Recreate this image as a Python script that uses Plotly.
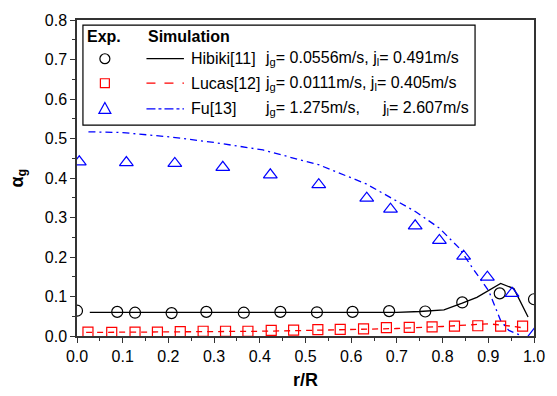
import plotly.graph_objects as go

# ---------------- data ----------------
hib_exp_x = [0.0, 0.088, 0.127, 0.207, 0.283, 0.365, 0.445, 0.525, 0.603, 0.683, 0.762, 0.843, 0.925, 1.0]
hib_exp_y = [0.064, 0.061, 0.059, 0.058, 0.061, 0.059, 0.061, 0.060, 0.061, 0.063, 0.062, 0.085, 0.108, 0.093]
hib_sim_x = [0.028, 0.2, 0.4, 0.6, 0.7, 0.75, 0.803, 0.843, 0.875, 0.927, 0.956, 0.987]
hib_sim_y = [0.060, 0.060, 0.060, 0.060, 0.060, 0.062, 0.066, 0.083, 0.098, 0.133, 0.120, 0.048]

luc_exp_x = [0.024, 0.076, 0.127, 0.176, 0.226, 0.276, 0.325, 0.374, 0.425, 0.474,
             0.527, 0.576, 0.627, 0.677, 0.727, 0.777, 0.826, 0.877, 0.927, 0.975]
luc_exp_y = [0.010, 0.009, 0.010, 0.010, 0.011, 0.012, 0.012, 0.012, 0.014, 0.015,
             0.016, 0.017, 0.018, 0.021, 0.022, 0.023, 0.025, 0.026, 0.025, 0.025]
luc_sim_x = [0.02, 0.2, 0.4, 0.5, 0.6, 0.7, 0.8, 0.85, 0.9, 0.95, 0.98]
luc_sim_y = [0.009, 0.010, 0.012, 0.014, 0.016, 0.019, 0.024, 0.027, 0.031, 0.025, 0.020]

fu_exp_x = [0.005, 0.108, 0.214, 0.319, 0.423, 0.529, 0.634, 0.686, 0.740, 0.793, 0.846, 0.898, 0.952, 1.0]
fu_exp_y = [0.441, 0.439, 0.437, 0.427, 0.408, 0.383, 0.349, 0.321, 0.279, 0.242, 0.202, 0.149, 0.108, 0.004]
fu_sim_x = [0.025, 0.1, 0.203, 0.3, 0.407, 0.53, 0.633, 0.691, 0.742, 0.793, 0.836, 0.865, 0.901, 0.927, 0.945, 0.975]
fu_sim_y = [0.517, 0.515, 0.504, 0.490, 0.471, 0.433, 0.385, 0.348, 0.314, 0.273, 0.223, 0.173, 0.114, 0.039, 0.014, 0.0]

x_ticks = [0.0, 0.1, 0.2, 0.3, 0.4, 0.5, 0.6, 0.7, 0.8, 0.9, 1.0]
y_ticks = [0.0, 0.1, 0.2, 0.3, 0.4, 0.5, 0.6, 0.7, 0.8]

legend_rows = [
    ("Hibiki[11]", "j<sub>g</sub>= 0.0556m/s, j<sub>l</sub>= 0.491m/s", None),
    ("Lucas[12]", "j<sub>g</sub>= 0.0111m/s, j<sub>l</sub>= 0.405m/s", None),
    ("Fu[13]", "j<sub>g</sub>= 1.275m/s,", "j<sub>l</sub>= 2.607m/s"),
]

FONT = "Arial, Liberation Sans, sans-serif"
BLACK = "#000000"
RED = "#ff0000"
BLUE = "#0000ff"

fig = go.Figure()

fig.add_trace(go.Scatter(x=hib_sim_x, y=hib_sim_y, mode="lines",
                         line=dict(color=BLACK, width=1.3), showlegend=False))
fig.add_trace(go.Scatter(x=luc_sim_x, y=luc_sim_y, mode="lines",
                         line=dict(color=RED, width=1.3, dash="6px,5px"), showlegend=False))
fig.add_trace(go.Scatter(x=fu_sim_x, y=fu_sim_y, mode="lines",
                         line=dict(color=BLUE, width=1.3, dash="7px,4px,2px,4px"), showlegend=False))

fig.add_trace(go.Scatter(x=hib_exp_x, y=hib_exp_y, mode="markers",
                         marker=dict(symbol="circle-open", size=11, color=BLACK, line=dict(width=1.2)),
                         showlegend=False))
fig.add_trace(go.Scatter(x=luc_exp_x, y=luc_exp_y, mode="markers",
                         marker=dict(symbol="square-open", size=10, color=RED, line=dict(width=1.2)),
                         showlegend=False))
fig.add_trace(go.Scatter(x=fu_exp_x, y=fu_exp_y, mode="markers",
                         marker=dict(symbol="triangle-up-open", size=12, color=BLUE, line=dict(width=1.2)),
                         showlegend=False))

# ---------------- manual legend ----------------
XU = 1 / 458.0   # data units per px (x)
YU = 0.8 / 320.0  # data units per px (y)
shapes = []
annotations = []
# box
shapes.append(dict(type="rect", xref="x", yref="y", x0=0.013, x1=0.871, y0=0.534, y1=0.787,
                   line=dict(color=BLACK, width=1.2), fillcolor="rgba(0,0,0,0)"))
annotations.append(dict(x=0.018, y=0.757, xref="x", yref="y", text="<b>Exp.</b>", showarrow=False,
                        xanchor="left", yanchor="middle", font=dict(size=16, family=FONT, color=BLACK)))
annotations.append(dict(x=0.150, y=0.757, xref="x", yref="y", text="<b>Simulation</b>", showarrow=False,
                        xanchor="left", yanchor="middle", font=dict(size=16, family=FONT, color=BLACK)))
row_y = [0.702, 0.640, 0.575]
mx = 0.061
colors = [BLACK, RED, BLUE]
dashes = ["solid", "dash", "dashdot"]
for i, (name, jstr, jstr2) in enumerate(legend_rows):
    yy = row_y[i]
    c = colors[i]
    if i == 0:
        r = 5.0
        shapes.append(dict(type="circle", xref="x", yref="y", x0=mx - r * XU, x1=mx + r * XU,
                           y0=yy - r * YU, y1=yy + r * YU, line=dict(color=c, width=1.2)))
    elif i == 1:
        r = 4.5
        shapes.append(dict(type="rect", xref="x", yref="y", x0=mx - r * XU, x1=mx + r * XU,
                           y0=yy - r * YU, y1=yy + r * YU, line=dict(color=c, width=1.2)))
    else:
        h = 6.0
        path = "M {:.4f} {:.4f} L {:.4f} {:.4f} L {:.4f} {:.4f} Z".format(
            mx - h * XU, yy - 4.5 * YU, mx + h * XU, yy - 4.5 * YU, mx, yy + 6.5 * YU)
        shapes.append(dict(type="path", xref="x", yref="y", path=path, line=dict(color=c, width=1.2)))
    shapes.append(dict(type="line", xref="x", yref="y", x0=0.152, x1=0.234, y0=yy, y1=yy,
                       line=dict(color=c, width=1.3, dash=dashes[i])))
    annotations.append(dict(x=0.246, y=yy, xref="x", yref="y", text=name, showarrow=False,
                            xanchor="left", yanchor="middle", font=dict(size=16, family=FONT, color=BLACK)))
    annotations.append(dict(x=0.408, y=yy, xref="x", yref="y", text=jstr, showarrow=False,
                            xanchor="left", yanchor="middle", font=dict(size=16, family=FONT, color=BLACK)))
    if jstr2:
        annotations.append(dict(x=0.662, y=yy, xref="x", yref="y", text=jstr2, showarrow=False,
                                xanchor="left", yanchor="middle", font=dict(size=16, family=FONT, color=BLACK)))

# axis titles
annotations.append(dict(x=-0.13, y=0.5, xref="paper", yref="paper", text="<b>α<sub>g</sub></b>",
                        showarrow=False, textangle=-90, xanchor="center", yanchor="middle",
                        font=dict(size=18, family=FONT, color=BLACK)))
annotations.append(dict(x=0.5, y=-0.14, xref="paper", yref="paper", text="<b>r/R</b>",
                        showarrow=False, xanchor="center", yanchor="middle",
                        font=dict(size=18, family=FONT, color=BLACK)))

axis_common = dict(showgrid=False, zeroline=False, showline=True, linecolor="#333333", linewidth=1.5,
                   mirror=True, ticks="outside", ticklen=5, tickwidth=1.2, tickcolor="#333333",
                   tickfont=dict(size=16, family=FONT, color=BLACK),
                   minor=dict(ticks="outside", ticklen=3, tickwidth=1, tickcolor="#333333", dtick=0.05))

fig.update_layout(
    width=557, height=396,
    margin=dict(l=77, r=21, t=16, b=60),
    plot_bgcolor="white", paper_bgcolor="white",
    showlegend=False,
    shapes=shapes, annotations=annotations,
    xaxis=dict(range=[0, 1.0], tickvals=x_ticks, ticktext=["{:.1f}".format(v) for v in x_ticks], **axis_common),
    yaxis=dict(range=[0, 0.8], tickvals=y_ticks, ticktext=["{:.1f}".format(v) for v in y_ticks], **axis_common),
)

fig.write_html("out.html")
